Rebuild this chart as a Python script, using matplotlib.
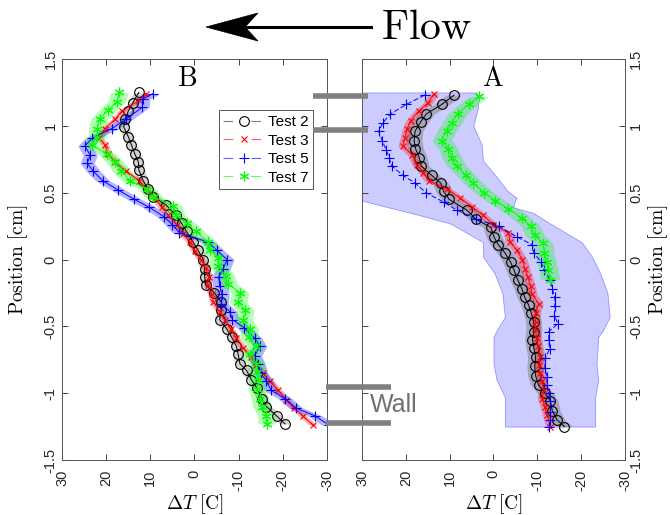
import matplotlib
matplotlib.use("Agg")
import matplotlib.pyplot as plt
from matplotlib.lines import Line2D
from matplotlib.patches import Polygon

plt.rcParams['font.family'] = ['Liberation Sans', 'DejaVu Sans']
plt.rcParams['mathtext.fontset'] = 'cm'
plt.rcParams['lines.scale_dashes'] = False

# ---------------- panel B (left) ----------------
posB2 = [1.25, 1.17, 1.11, 1.05, 0.99, 0.92, 0.86, 0.79, 0.73, 0.67, 0.59, 0.53, 0.47, 0.41,
         0.33, 0.27, 0.21, 0.13, 0.07, 0.0, -0.07, -0.13, -0.19, -0.25, -0.32, -0.38, -0.45,
         -0.52, -0.58, -0.65, -0.71, -0.78, -0.83, -0.90, -0.96, -1.04, -1.10, -1.17, -1.23]
tB2 = [12.6, 14.0, 15.0, 15.7, 16.0, 15.0, 14.3, 13.5, 12.7, 12.6, 11.6, 10.6, 9.3, 6.5,
       4.2, 2.9, 1.8, 0.3, -0.8, -2.0, -2.3, -2.3, -2.5, -4.5, -6.1, -6.0, -5.7,
       -7.3, -8.4, -9.5, -9.9, -10.3, -11.8, -12.9, -14.1, -15.2, -16.3, -18.6, -20.5]

posB3 = [1.24, 1.19, 1.11, 1.05, 0.98, 0.91, 0.86, 0.79, 0.73, 0.66, 0.59, 0.53, 0.46, 0.39,
         0.33, 0.26, 0.19, 0.13, 0.06, 0.0, -0.06, -0.13, -0.19, -0.26, -0.32, -0.39, -0.45,
         -0.52, -0.59, -0.66, -0.73, -0.79, -0.85, -0.91, -0.98, -1.05, -1.11, -1.17, -1.24]
tB3 = [11.0, 12.5, 16.5, 17.9, 20.3, 21.6, 20.3, 19.5, 18.0, 15.5, 12.5, 11.0, 9.0, 7.4,
       5.9, 4.0, 2.5, 1.0, -0.1, -1.5, -2.5, -3.2, -3.0, -3.9, -4.3, -5.7, -6.9,
       -8.2, -9.5, -11.0, -12.9, -14.0, -15.5, -17.1, -19.0, -20.8, -22.5, -24.5, -26.9]

posB5 = [1.24, 1.20, 1.14, 1.05, 0.98, 0.91, 0.85, 0.78, 0.72, 0.66, 0.59, 0.52, 0.45, 0.39,
         0.32, 0.26, 0.20, 0.13, 0.07, 0.0, -0.07, -0.13, -0.20, -0.26, -0.33, -0.39, -0.45,
         -0.51, -0.59, -0.65, -0.72, -0.78, -0.85, -0.91, -0.98, -1.04, -1.11, -1.17, -1.24]
tB5 = [9.5, 11.7, 11.8, 15.5, 18.7, 23.1, 24.8, 23.6, 24.3, 22.9, 20.8, 17.3, 13.6, 10.2,
       6.9, 5.0, 3.4, -3.1, -5.0, -7.4, -6.5, -5.5, -5.7, -6.3, -6.1, -8.0, -8.6,
       -11.2, -13.7, -14.8, -13.6, -14.4, -15.0, -16.3, -17.4, -20.5, -22.9, -27.3, -30.5]

posB7 = [1.25, 1.18, 1.12, 1.05, 0.98, 0.92, 0.86, 0.79, 0.73, 0.66, 0.59, 0.53, 0.47, 0.40,
         0.33, 0.27, 0.21, 0.13, 0.07, 0.01, -0.05, -0.12, -0.18, -0.25, -0.32, -0.38, -0.45,
         -0.52, -0.58, -0.65, -0.71, -0.78, -0.84, -0.90, -0.97, -1.04, -1.10, -1.17, -1.23]
tB7 = [17.0, 17.6, 19.5, 21.5, 22.0, 22.0, 23.3, 19.9, 18.0, 16.6, 14.5, 10.8, 9.3, 4.8,
       4.1, 1.7, -0.3, -3.1, -3.6, -5.4, -5.3, -7.1, -7.6, -10.3, -9.9, -11.5, -11.1,
       -12.5, -12.3, -14.0, -12.5, -14.0, -14.1, -14.4, -14.2, -14.8, -15.2, -16.3, -16.4]

# ---------------- panel A (right) ----------------
posA2 = [1.23, 1.16, 1.09, 1.03, 0.96, 0.89, 0.83, 0.76, 0.70, 0.63, 0.57, 0.51, 0.45, 0.37,
         0.30, 0.24, 0.17, 0.11, 0.05, -0.02, -0.08, -0.15, -0.22, -0.28, -0.34, -0.40, -0.47,
         -0.54, -0.60, -0.66, -0.73, -0.80, -0.87, -0.94, -1.00, -1.06, -1.13, -1.20, -1.25]
tA2 = [9.0, 11.8, 15.3, 16.6, 17.9, 18.1, 17.8, 16.9, 16.5, 14.1, 12.0, 11.4, 10.1, 6.1,
       3.9, 0.6, -0.1, -1.1, -2.6, -3.9, -4.7, -5.5, -6.5, -7.1, -8.0, -8.6, -9.2,
       -9.2, -8.9, -9.2, -9.6, -9.4, -9.6, -10.3, -11.8, -13.0, -13.4, -14.5, -16.2]

posA3 = [1.24, 1.17, 1.11, 1.04, 0.98, 0.91, 0.85, 0.78, 0.71, 0.65, 0.59, 0.53, 0.46, 0.39,
         0.33, 0.26, 0.20, 0.13, 0.07, 0.0, -0.07, -0.13, -0.20, -0.26, -0.33, -0.40, -0.47,
         -0.53, -0.59, -0.65, -0.73, -0.79, -0.85, -0.91, -0.98, -1.04, -1.10, -1.16, -1.25]
tA3 = [13.6, 15.0, 17.1, 18.9, 19.7, 20.2, 20.7, 18.5, 17.5, 16.0, 14.8, 10.7, 7.6, 4.8,
       2.3, 0.0, -3.4, -3.8, -5.3, -6.6, -7.2, -7.8, -8.5, -8.8, -10.3, -9.6, -9.6,
       -9.6, -9.9, -10.2, -10.7, -10.3, -10.7, -11.1, -11.5, -11.1, -11.7, -12.2, -13.0]

posA5 = [1.23, 1.16, 1.09, 1.02, 0.96, 0.89, 0.82, 0.76, 0.70, 0.63, 0.57, 0.50, 0.43, 0.37,
         0.30, 0.25, 0.17, 0.11, 0.05, -0.02, -0.08, -0.15, -0.22, -0.28, -0.35, -0.42, -0.48,
         -0.54, -0.60, -0.67, -0.74, -0.81, -0.88, -0.94, -1.00, -1.06, -1.14, -1.20, -1.25]
tA5 = [15.7, 19.9, 23.5, 25.3, 26.2, 25.4, 24.5, 23.8, 23.2, 20.7, 17.8, 15.4, 11.4, 8.4,
       3.9, -1.2, -5.3, -8.9, -9.2, -10.9, -11.5, -12.9, -13.4, -14.0, -14.0, -13.9, -14.7,
       -12.6, -12.6, -12.8, -11.8, -11.7, -12.2, -12.2, -12.6, -13.0, -13.0, -13.0, -12.7]

posA7 = [1.22, 1.16, 1.09, 1.02, 0.96, 0.89, 0.83, 0.76, 0.70, 0.63, 0.57, 0.50, 0.44, 0.38,
         0.31, 0.25, 0.18, 0.12, 0.05, -0.02, -0.08, -0.15]
tA7 = [3.3, 5.7, 8.2, 9.5, 10.7, 11.8, 10.3, 9.5, 8.4, 6.3, 4.6, 2.1, -0.4, -3.4,
       -6.4, -8.5, -9.4, -11.4, -11.6, -12.1, -12.5, -12.9]

# wide spread band of Test 5 in panel A (warm edge / cold edge)
bandA5_pos = [1.25, 1.14, 1.0, 0.86, 0.74, 0.62, 0.52, 0.46, 0.45, 0.39, 0.35, 0.27, 0.13,
              0.02, -0.10, -0.25, -0.43, -0.53, -0.58, -0.78, -0.90, -1.03, -1.25]
bandA5_warm = [45, 45, 45, 45, 45, 45, 45, 45, 31, 24, 19.0, 9.9, 2.4,
               2.4, -0.2, -2.0, -2.6, -0.7, 0.0, 0.0, -0.7, -2.6, -2.6]
bandA5_cold = [3.8, 3.5, 4.6, 2.7, 2.4, -0.7, -3.0, -5.3, -5.0, -4.5, -9.0, -12.9, -20.1,
               -22.5, -24.3, -26.0, -26.5, -25.0, -23.9, -23.5, -23.9, -23.2, -23.2]

labels = ['Test 2', 'Test 3', 'Test 5', 'Test 7']
colors = ['black', 'red', 'blue', '#00ff00']
light = ['#808080', '#ff6060', '#6060ff', '#60ff60']
markers = ['o', 'x', '+', (6, 2, 0)]
msizes = [7, 5, 7, 7]
band_colors = ['gray', 'red', 'blue', '#00ff00']
bandB_half = [1.2, 0.9, 1.6, 2.0]
bandA_half = [1.8, 1.1, 0.0, 2.2]
bandA_alpha = [0.5, 0.3, 0.3, 0.3]

fig = plt.figure(figsize=(6.7, 5.15), dpi=100)
axB = fig.add_axes([0.0925, 0.1068, 0.3955, 0.7786])
axA = fig.add_axes([0.5403, 0.1068, 0.3925, 0.7786])

def draw(ax, series, halves, alphas, dashed_blue=False):
    for i, (p, t) in enumerate(series):
        if halves[i] > 0:
            ax.fill_betweenx(p, [v - halves[i] for v in t], [v + halves[i] for v in t],
                             color=band_colors[i], alpha=alphas[i], lw=0)
    for i, (p, t) in enumerate(series):
        ls = '--' if (dashed_blue and i == 2) else '-'
        ax.plot(t, p, ls=ls, lw=0.7, color=colors[i],
                marker=markers[i], ms=msizes[i], mfc='none', mec=colors[i], mew=0.8)

draw(axB, [(posB2, tB2), (posB3, tB3), (posB5, tB5), (posB7, tB7)], bandB_half,
     [0.35, 0.3, 0.3, 0.3])

axA.fill_betweenx(bandA5_pos, bandA5_cold, bandA5_warm, facecolor=(0, 0, 1, 0.2),
                  edgecolor=(0, 0, 1, 0.35), lw=0.6)
draw(axA, [(posA2, tA2), (posA3, tA3), (posA5, tA5), (posA7, tA7)], bandA_half,
     bandA_alpha, dashed_blue=True)

for ax in (axB, axA):
    ax.set_xlim(30, -30)
    ax.set_ylim(-1.5, 1.5)
    ax.set_xticks([30, 20, 10, 0, -10, -20, -30])
    ax.set_yticks([-1.5, -1, -0.5, 0, 0.5, 1, 1.5])
    ax.set_xticklabels(['30', '20', '10', '0', '-10', '-20', '-30'], rotation=90)
    ax.tick_params(direction='in', length=4, width=0.6, top=True, bottom=True,
                   left=True, right=True, labelsize=10.5, colors='#262626', pad=3)
    ax.tick_params(axis='x', pad=7)
    for s in ax.spines.values():
        s.set_color('#555555')
        s.set_linewidth(0.7)
    ax.set_xlabel(r'$\Delta T\ \mathrm{[C]}$', fontsize=14, labelpad=1)

ylabs = ['-1.5', '-1', '-0.5', '0', '0.5', '1', '1.5']
axB.set_yticklabels(ylabs, rotation=90, va='center')
axB.set_ylabel(r'$\mathrm{Position\ [cm]}$', fontsize=14)
axB.yaxis.set_label_coords(-0.12, 0.5)
axA.yaxis.tick_right()
axA.tick_params(left=True, right=True, labelleft=False, labelright=True)
axA.set_yticklabels(ylabs, rotation=90, va='center')
axA.yaxis.set_label_position('right')
axA.set_ylabel(r'$\mathrm{Position\ [cm]}$', fontsize=14)
axA.yaxis.set_label_coords(1.08, 0.5)

axB.text(0.472, 0.95, r'$\mathrm{B}$', transform=axB.transAxes, fontsize=20,
         ha='center', va='center')
axA.text(0.498, 0.95, r'$\mathrm{A}$', transform=axA.transAxes, fontsize=20,
         ha='center', va='center')

handles = [Line2D([0], [0], color=light[i], lw=0.8, ls=(0, (7, 13, 7)), marker=markers[i],
                  ms=msizes[i], mfc='none', mec=colors[i], mew=0.8) for i in range(4)]
leg = axB.legend(handles, labels, loc='upper right', bbox_to_anchor=(0.947, 0.872),
                 fontsize=11, frameon=True, fancybox=False, framealpha=1,
                 edgecolor='#555555', labelspacing=0.3, handlelength=2.7,
                 handletextpad=0.2, borderpad=0.3, borderaxespad=0)
leg.get_frame().set_linewidth(0.7)

# wall markers and flow arrow, placed in figure pixel fractions
W, H = 670.0, 515.0
def fx(x):
    return x / W
def fy(y):
    return 1 - y / H

wall = dict(color='#808080', lw=4, solid_capstyle='butt', transform=fig.transFigure)
fig.add_artist(Line2D([fx(313), fx(368)], [fy(96), fy(96)], **wall))
fig.add_artist(Line2D([fx(313), fx(368)], [fy(130), fy(130)], **wall))
fig.add_artist(Line2D([fx(326), fx(391)], [fy(387), fy(387)], **wall))
fig.add_artist(Line2D([fx(326), fx(391)], [fy(423), fy(423)], **wall))
fig.text(fx(370), fy(405), 'Wall', fontsize=18, color='#707070', ha='left', va='center')

fig.add_artist(Line2D([fx(240), fx(371)], [fy(27), fy(27)], color='black', lw=2.2,
                      transform=fig.transFigure))
head = Polygon([[fx(206), fy(27)], [fx(258), fy(13)], [fx(245), fy(27)], [fx(258), fy(41)]],
               closed=True, facecolor='black', edgecolor='black', lw=0.5,
               transform=fig.transFigure)
fig.add_artist(head)
fig.text(fx(381), fy(28), r'$\mathrm{Flow}$', fontsize=30, ha='left', va='center')

fig.savefig('out.png', dpi=100)
